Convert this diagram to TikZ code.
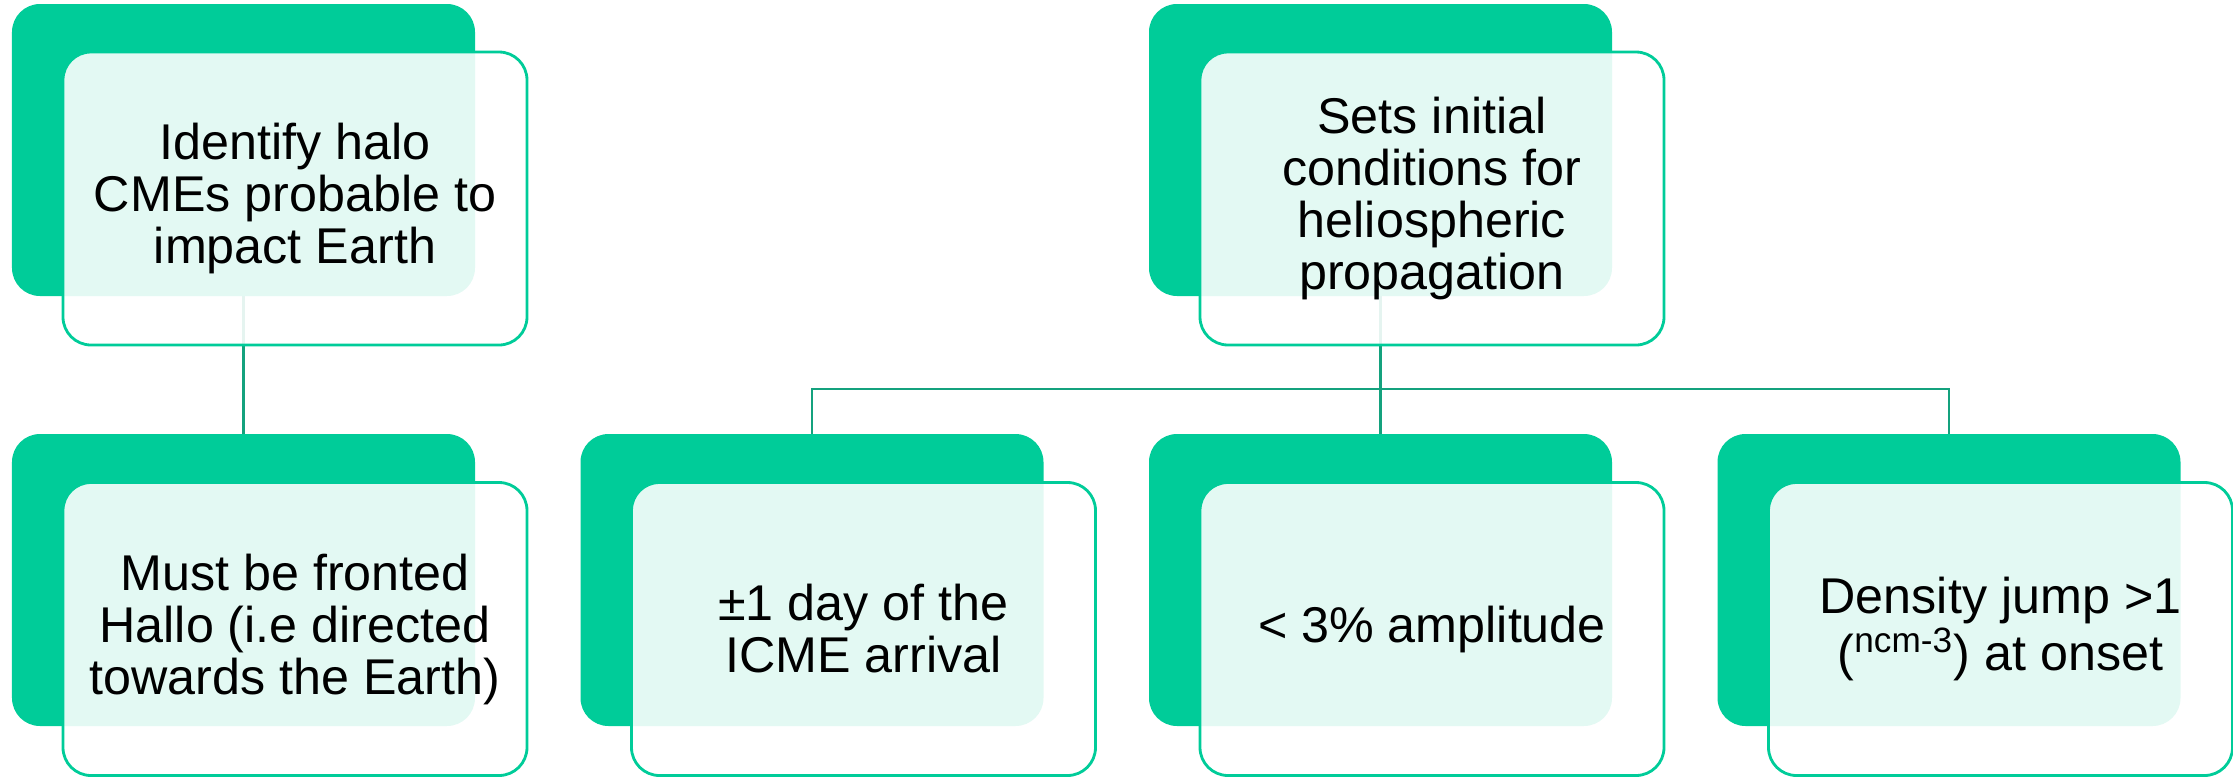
\documentclass[tikz,border=0pt]{standalone}
\usepackage{fontspec}
\setmainfont{Liberation Sans}
\usetikzlibrary{backgrounds}
\definecolor{mint}{HTML}{00CC99}
\definecolor{linkgreen}{HTML}{14A27E}
\begin{document}
\begin{tikzpicture}[back/.style={fill=mint, rounded corners=0.28cm, minimum width=4.63cm, minimum height=2.92cm, inner sep=0pt, outer sep=0pt}, front/.style={draw=mint, line width=0.8pt, fill=white, fill opacity=0.89, text opacity=1, rounded corners=0.28cm, minimum width=4.64cm, minimum height=2.93cm, inner sep=0pt, outer sep=0pt, align=center, font=\fontsize{14.3}{14.8}\selectfont}, link/.style={draw=linkgreen, line width=0.75pt}]
	\useasboundingbox (0,0) rectangle (22.33,-7.76);
	\node[back] (identifyB) at (2.435,-1.5) {};
	\node[front] (identify) at (2.95,-1.985) {Identify halo\\CMEs probable to\\impact Earth};
	\node[back] (setsB) at (13.805,-1.5) {};
	\node[front] (sets) at (14.32,-1.985) {Sets initial\\conditions for\\heliospheric\\propagation};
	\node[back] (frontedB) at (2.435,-5.8) {};
	\node[front] (fronted) at (2.95,-6.29) {Must be fronted\\Hallo (i.e directed\\towards the Earth)};
	\node[back] (arrivalB) at (8.12,-5.8) {};
	\node[front] (arrival) at (8.635,-6.29) {±1 day of the\\ICME arrival};
	\node[back] (amplitudeB) at (13.805,-5.8) {};
	\node[front] (amplitude) at (14.32,-6.29) {< 3\% amplitude};
	\node[back] (densityB) at (19.49,-5.8) {};
	\node[front] (density) at (20.005,-6.29) {Density jump >1\\(\textsuperscript{ncm-3}) at onset};
	\coordinate (split) at (13.805,-3.89);
	\begin{scope}[on background layer]
		\draw[link] (identifyB) -- (frontedB);
		\draw[link] (setsB) -- (split);
		\draw[link] (arrivalB.north) |- (split) -| (densityB.north);
		\draw[link] (split) -- (amplitudeB);
	\end{scope}
\end{tikzpicture}
\end{document}
